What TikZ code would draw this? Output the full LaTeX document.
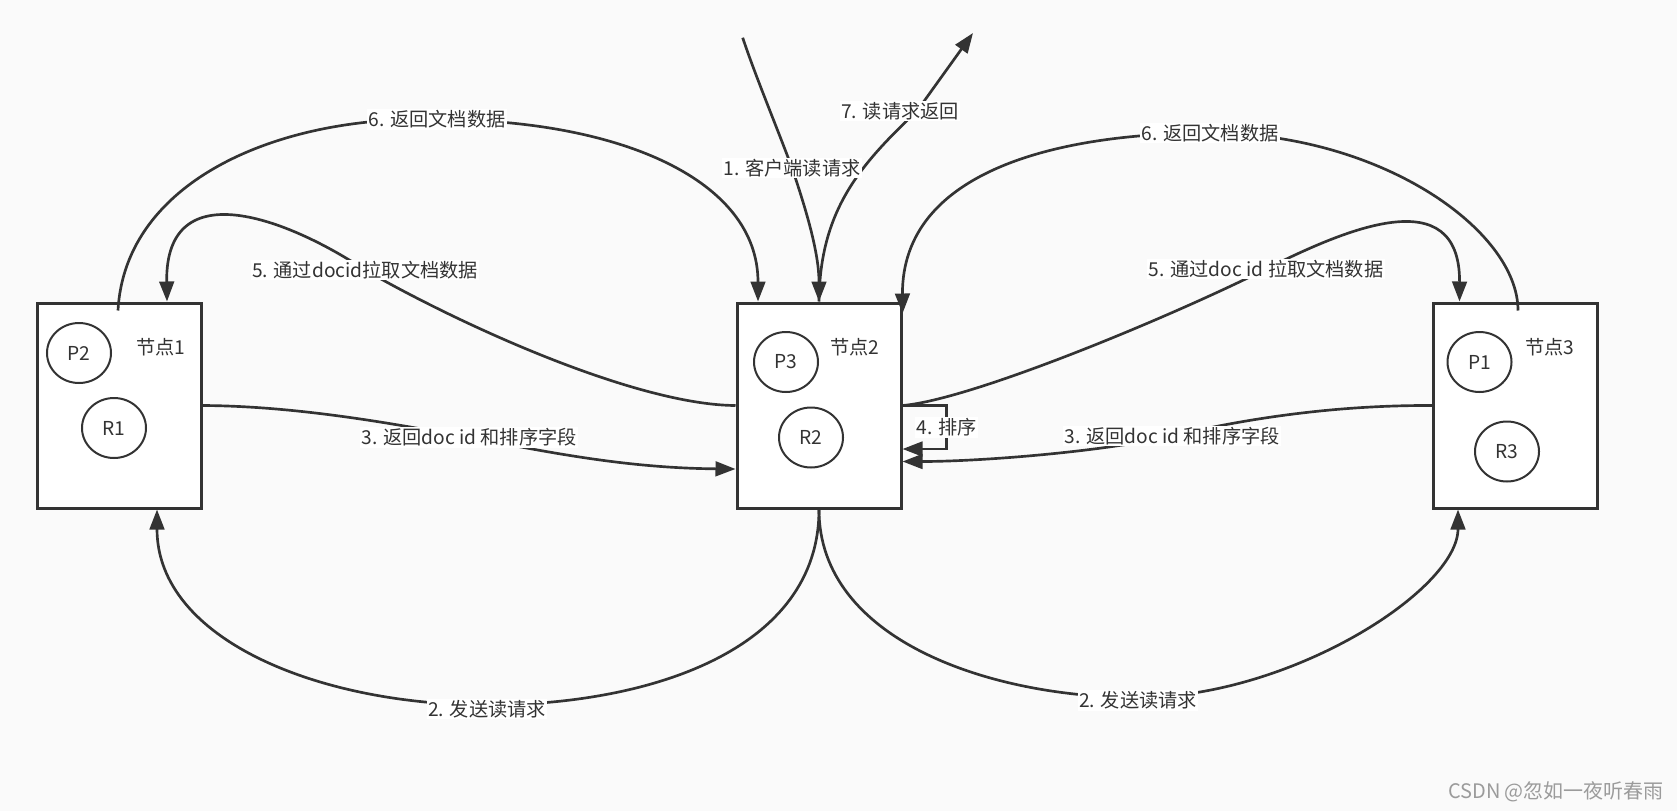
\documentclass[tikz,border=0pt]{standalone}
\usepackage{fontspec}
\setmainfont{Noto Sans CJK SC}
\usetikzlibrary{arrows.meta,shapes.geometric,calc}
\definecolor{ink}{RGB}{51,51,51}
\definecolor{paper}{RGB}{250,250,250}
\definecolor{mark}{RGB}{155,155,155}
\tikzset{every picture/.style={line width=0.75pt}}

\begin{document}
\begin{tikzpicture}[x=0.75pt,y=0.75pt,yscale=-1,xscale=1,
  every node/.style={font=\fontsize{14.4}{16}\selectfont,text=ink},
  box/.style={draw=ink,fill=white,line width=2.25pt,minimum width=123pt,minimum height=153.75pt},
  part/.style={ellipse,draw=ink,line width=1.5pt,minimum width=48pt,minimum height=45pt,inner sep=0pt},
  lab/.style={fill=white,inner sep=1pt},
  arr/.style={draw=ink,line width=2pt,-{Triangle[length=15pt,width=11pt]}}]
%set diagram area, 1677 x 811
\fill[paper] (0,0) rectangle (1677,811);

%Shape: Rectangle
\node[box] (node1) at (119,405.5) {};
\node[box] (node2) at (819,405.5) {};
\node[box] (node3) at (1515.5,405.5) {};

%Shape: Ellipse
\node[part] (p2) at (79,353) {P2};
\node[part] (r1) at (114,428) {R1};
\node[part] (p3) at (786,362) {P3};
\node[part] (r2) at (811,437.5) {R2};
\node[part] (p1) at (1479.5,362) {P1};
\node[part] (r3) at (1507,451.5) {R3};

% Text Node
\node (name1) at (161,347) {节点1};
\node (name2) at (855,347) {节点2};
\node (name3) at (1550,347) {节点3};

\coordinate (clientin) at (742.7,37.7);
\coordinate (clientout) at (973,33);

%Curve Lines
\draw[arr] (node2.north) .. controls (820,210) and (860,165) .. (917,111) node[lab,xshift=-12.75pt] (l7) {7. 读请求返回} -- (clientout);
\draw[arr] (clientin) .. controls (755,75) and (778,130) .. (792,168) node[lab] (l1) {1. 客户端读请求} .. controls (808,215) and (819,255) .. (node2.north);

\draw[arr] ($(node1.north)+(-1,9)$) .. controls (125,180) and (280,115) .. (437,119.5) node[lab] (l6a) {6. 返回文档数据} .. controls (620,119.5) and (758,180) .. ($(node2.north)+(-61,0)$);
\draw[arr] (node2.west) .. controls (640,405) and (470,330) .. (365,270) node[lab] (l5a) {5. 通过docid拉取文档数据} .. controls (290,220) and (165,170) .. ($(node1.north)+(48,0)$);

\draw[arr] ($(node3.north)+(2.5,9)$) .. controls (1518,230) and (1380,133) .. (1210,133) node[lab] (l6b) {6. 返回文档数据} .. controls (1060,133) and (902,170) .. ($(node2.north east)+(0,12)$);
\draw[arr] (node2.east) .. controls (970,400) and (1166,319) .. (1266,269) node[lab] (l5b) {5. 通过doc id 拉取文档数据} .. controls (1346,229) and (1460,180) .. ($(node3.north)+(-56,0)$);

\draw[arr] (node1.east) .. controls (300,406) and (400,425) .. (469,437.5) node[lab] (l3a) {3. 返回doc id 和排序字段} .. controls (540,450) and (620,468) .. ($(node2.west)+(0,63.5)$);
\draw[arr] (node3.west) .. controls (1330,405) and (1240,420) .. (1172,436) node[lab] (l3b) {3. 返回doc id 和排序字段} .. controls (1100,452) and (980,461.5) .. ($(node2.east)+(0,56)$);

\draw[arr] (node2.east) -- ++(44,0) |- node[lab,pos=0.25] (l4) {4. 排序} ($(node2.east)+(0,43.5)$);

\draw[arr] (node2.south) .. controls (819,650) and (650,705) .. (487,705) node[lab,yshift=-3pt] (l2a) {2. 发送读请求} .. controls (320,705) and (157,640) .. ($(node1.south)+(38,0)$);
\draw[arr] (node2.south) .. controls (819,640) and (990,697.5) .. (1138,697.5) node[lab,yshift=-2.25pt] (l2b) {2. 发送读请求} .. controls (1290,697.5) and (1458,590) .. ($(node3.south)+(-57.5,0)$);

% Text Node
\node[text=mark,font=\fontsize{15}{17}\selectfont] (wm) at (1556,792) {CSDN @忽如一夜听春雨};

\end{tikzpicture}
\end{document}
